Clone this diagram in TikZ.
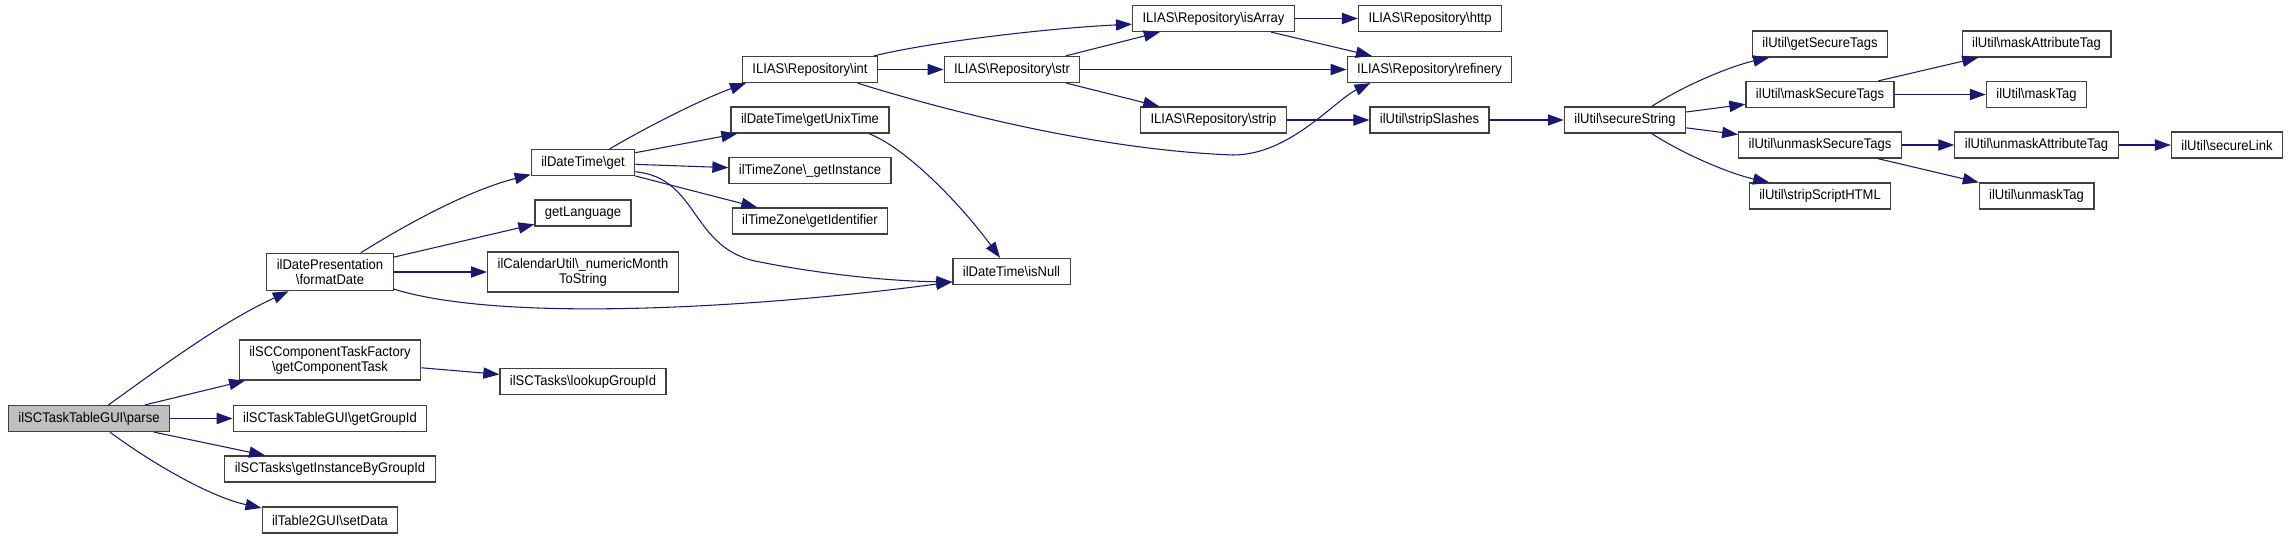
\documentclass[tikz,border=0pt]{standalone}
\usepackage{fontspec}
\setmainfont{Liberation Sans}[FakeStretch=0.93]
\usepackage{tikz}
\usetikzlibrary{arrows.meta,positioning,calc}
\definecolor{edgeblue}{HTML}{191970}
\definecolor{boxgray}{HTML}{404040}
\definecolor{rootgray}{HTML}{BFBFBF}
\newcommand{\bsl}{\textbackslash}
\tikzset{
	fn/.style={draw=boxgray, line width=0.9pt, font=\fontsize{10.5pt}{11.25pt}\selectfont, inner xsep=7.5pt, inner ysep=4.5pt, minimum height=19.5pt, align=center},
	root/.style={fn, fill=rootgray},
	call/.style={draw=edgeblue, line width=0.8pt, -{Triangle[length=12pt,width=8.5pt]}}
}

\begin{document}
\begin{tikzpicture}[x=0.75pt, y=-0.75pt]
		\useasboundingbox (0,0) rectangle (2289,539);
		\node[root]	(parse)			at	(89,418.5)		{ilSCTaskTableGUI\bsl parse};
		
		\node[fn]	(formatdate)	at	(330,272)		{ilDatePresentation\\\bsl formatDate};
		\node[fn]	(comptask)		at	(330,360)		{ilSCComponentTaskFactory\\\bsl getComponentTask};
		\node[fn]	(groupid)		at	(330,418.5)		{ilSCTaskTableGUI\bsl getGroupId};
		\node[fn]	(instance)		at	(330,469)		{ilSCTasks\bsl getInstanceByGroupId};
		\node[fn]	(setdata)		at	(330,520)		{ilTable2GUI\bsl setData};
		
		\node[fn]	(dtget)			at	(583,162.5)		{ilDateTime\bsl get};
		\node[fn]	(getlang)		at	(583,213)		{getLanguage};
		\node[fn]	(calmonth)		at	(583,272)		{ilCalendarUtil\bsl\_numericMonth\\ToString};
		\node[fn]	(lookup)		at	(583,381.5)		{ilSCTasks\bsl lookupGroupId};
		
		\node[fn]	(repoint)		at	(810,69.5)		{ILIAS\bsl Repository\bsl int};
		\node[fn]	(unixtime)		at	(810,120)		{ilDateTime\bsl getUnixTime};
		\node[fn]	(tzinst)		at	(810,170.5)		{ilTimeZone\bsl\_getInstance};
		\node[fn]	(tzident)		at	(810,221)		{ilTimeZone\bsl getIdentifier};
		
		\node[fn]	(repostr)		at	(1012,69.5)		{ILIAS\bsl Repository\bsl str};
		\node[fn]	(isnull)		at	(1011.5,271.5)	{ilDateTime\bsl isNull};
		
		\node[fn]	(isarray)		at	(1213.5,18.5)	{ILIAS\bsl Repository\bsl isArray};
		\node[fn]	(strip)			at	(1213.5,120)	{ILIAS\bsl Repository\bsl strip};
		
		\node[fn]	(http)			at	(1430,18.5)		{ILIAS\bsl Repository\bsl http};
		\node[fn]	(refinery)		at	(1429.5,69.5)	{ILIAS\bsl Repository\bsl refinery};
		\node[fn]	(stripslashes)	at	(1429.5,120)	{ilUtil\bsl stripSlashes};
		
		\node[fn]	(securestr)		at	(1625,120)		{ilUtil\bsl secureString};
		
		\node[fn]	(gettags)		at	(1820,44)		{ilUtil\bsl getSecureTags};
		\node[fn]	(masktags)		at	(1820,94.5)		{ilUtil\bsl maskSecureTags};
		\node[fn]	(unmasktags)	at	(1820,145)		{ilUtil\bsl unmaskSecureTags};
		\node[fn]	(stripscript)	at	(1820,196)		{ilUtil\bsl stripScriptHTML};
		
		\node[fn]	(maskattr)		at	(2036.5,44)		{ilUtil\bsl maskAttributeTag};
		\node[fn]	(masktag)		at	(2036.5,94.5)	{ilUtil\bsl maskTag};
		\node[fn]	(unmaskattr)	at	(2036.5,145)	{ilUtil\bsl unmaskAttributeTag};
		\node[fn]	(unmasktag)		at	(2036.5,196)	{ilUtil\bsl unmaskTag};
		\node[fn]	(securelink)	at	(2227,145)		{ilUtil\bsl secureLink};
		
		\draw[call] (parse.35) .. controls (160,368) and (220,323) .. (formatdate.205);
		\draw[call] (parse) -- (comptask);
		\draw[call] (parse) -- (groupid);
		\draw[call] (parse) -- (instance);
		\draw[call] (parse.-33) .. controls (150,462) and (210,497) .. (setdata.170);
		
		\draw[call] (formatdate.32) .. controls (410,222) and (470,190) .. (dtget.193);
		\draw[call] (formatdate) -- (getlang);
		\draw[call] (formatdate) -- (calmonth);
		\draw[call] (formatdate.-15) .. controls (510,325) and (780,305) .. (isnull.190);
		\draw[call] (comptask) -- (lookup);
		
		\draw[call] (dtget.27) .. controls (645,128) and (700,100) .. (repoint.192);
		\draw[call] (dtget) -- (unixtime);
		\draw[call] (dtget) -- (tzinst);
		\draw[call] (dtget) -- (tzident);
		\draw[call] (dtget.-10) .. controls (700,178) and (690,250) .. (760,262) .. controls (810,272) and (880,281) .. (isnull.190);
		\draw[call] (unixtime.-13) .. controls (910,150) and (965,210) .. (isnull.130);
		
		\draw[call] (repoint.12) .. controls (930,42) and (1050,28) .. (isarray.184);
		\draw[call] (repoint) -- (repostr);
		\draw[call] (repoint.-16) .. controls (950,112) and (1100,150) .. (1233,155) .. controls (1290,155) and (1335,100) .. (refinery.193);
		
		\draw[call] (repostr) -- (isarray);
		\draw[call] (repostr) -- (refinery);
		\draw[call] (repostr) -- (strip);
		\draw[call] (isarray) -- (http);
		\draw[call] (isarray) -- (refinery);
		\draw[call] (strip) -- (stripslashes);
		\draw[call] (stripslashes) -- (securestr);
		
		\draw[call] (securestr.27) .. controls (1690,82) and (1735,65) .. (gettags.195);
		\draw[call] (securestr) -- (masktags);
		\draw[call] (securestr) -- (unmasktags);
		\draw[call] (securestr.-27) .. controls (1690,158) and (1735,175) .. (stripscript.165);
		
		\draw[call] (masktags) -- (maskattr);
		\draw[call] (masktags) -- (masktag);
		\draw[call] (unmasktags) -- (unmaskattr);
		\draw[call] (unmasktags) -- (unmasktag);
		\draw[call] (unmaskattr) -- (securelink);
	\end{tikzpicture}
\end{document}
